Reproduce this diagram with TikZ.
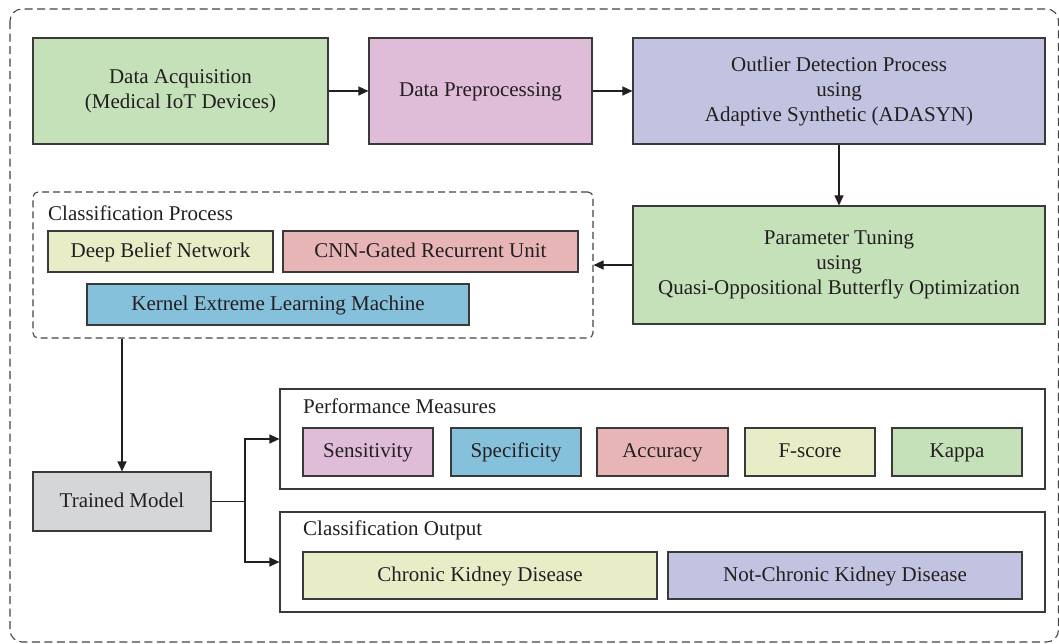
\documentclass[tikz,border=0pt]{standalone}
\usepackage{fontspec}
\setmainfont{Liberation Serif}
\usetikzlibrary{arrows.meta}
\definecolor{cgreen}{HTML}{C5E1B9}
\definecolor{cpink}{HTML}{DFBDD8}
\definecolor{clav}{HTML}{C2C3E1}
\definecolor{cyell}{HTML}{E8EDC8}
\definecolor{csalm}{HTML}{E8B5B6}
\definecolor{cblue}{HTML}{86C1DC}
\definecolor{cgray}{HTML}{D5D6D8}
\definecolor{cline}{HTML}{3A3A3A}
\definecolor{ctext}{HTML}{231F20}
\definecolor{cdash}{HTML}{444444}
\tikzset{
  box/.style={draw=cline, line width=1.1pt, rectangle, inner sep=0pt, align=center,
    text=ctext, font=\fontsize{21}{25}\selectfont},
  one/.style={text height=15pt, text depth=3.5pt},
  frame/.style={draw=cline, line width=1.1pt, rectangle, inner sep=0pt},
  dframe/.style={draw=cdash, line width=1.1pt, dash pattern=on 7pt off 4pt, rectangle, inner sep=0pt, rounded corners=5pt},
  lbl/.style={anchor=west, inner sep=0pt, text=ctext, font=\fontsize{21}{25}\selectfont},
  arr/.style={draw=ctext, line width=1.1pt, -{Triangle[length=10pt,width=9pt]}},
  ln/.style={draw=ctext, line width=1.1pt},
}
\begin{document}
\begin{tikzpicture}[x=1pt,y=-1pt]
\useasboundingbox (0,0) rectangle (1059,643);
% outer dashed frame
\draw[draw=cdash, line width=1.1pt, dash pattern=on 8pt off 4.5pt, rounded corners=12pt] (10,9) rectangle (1058.5,642);

% top row
\node[box, fill=cgreen, minimum width=295pt, minimum height=106pt] (acq) at (180.5,91) {Data Acquisition\\(Medical IoT Devices)};
\node[box, one, fill=cpink, minimum width=223pt, minimum height=106pt] (prep) at (480.5,91) {Data Preprocessing};
\node[box, fill=clav, minimum width=412pt, minimum height=106pt] (outl) at (839,91) {Outlier Detection Process\\using\\Adaptive Synthetic (ADASYN)};
\node[box, fill=cgreen, minimum width=412pt, minimum height=118pt] (param) at (839,265) {Parameter Tuning\\using\\Quasi-Oppositional Butterfly Optimization};

% classification process
\node[dframe, minimum width=560pt, minimum height=146pt] (cls) at (313,265) {};
\node[lbl] (clslbl) at (48,213) {Classification Process};
\node[box, one, fill=cyell, minimum width=225pt, minimum height=41pt] (dbn) at (160.5,251.5) {Deep Belief Network};
\node[box, one, fill=csalm, minimum width=295pt, minimum height=41pt] (cnn) at (430.5,251.5) {CNN-Gated Recurrent Unit};
\node[box, one, fill=cblue, minimum width=382pt, minimum height=41pt] (kelm) at (278,304.5) {Kernel Extreme Learning Machine};

% trained model
\node[box, one, fill=cgray, minimum width=178pt, minimum height=59pt] (tm) at (122,501.5) {Trained Model};

% performance measures
\node[frame, minimum width=765pt, minimum height=100pt] (perf) at (662.5,439) {};
\node[lbl] (perflbl) at (303,406) {Performance Measures};
\node[box, one, fill=cpink, minimum width=130pt, minimum height=48pt] (sens) at (368,452) {Sensitivity};
\node[box, one, fill=cblue, minimum width=130pt, minimum height=48pt] (spec) at (516,452) {Specificity};
\node[box, one, fill=csalm, minimum width=131pt, minimum height=48pt] (acc) at (662.5,452) {Accuracy};
\node[box, one, fill=cyell, minimum width=130pt, minimum height=48pt] (fs) at (810,452) {F-score};
\node[box, one, fill=cgreen, minimum width=130pt, minimum height=48pt] (kap) at (957,452) {Kappa};

% classification output
\node[frame, minimum width=765pt, minimum height=100pt] (out) at (662.5,562) {};
\node[lbl] (outlbl) at (303,530) {Classification Output};
\node[box, one, fill=cyell, minimum width=354pt, minimum height=47pt] (ckd) at (480,575.5) {Chronic Kidney Disease};
\node[box, one, fill=clav, minimum width=354pt, minimum height=47pt] (nckd) at (845,575.5) {Not-Chronic Kidney Disease};

% connectors
\draw[arr] (acq.east) -- (prep.west);
\draw[arr] (prep.east) -- (outl.west);
\draw[arr] (outl.south) -- (param.north);
\draw[arr] (param.west) -- (cls.east);
\draw[arr] (tm.north |- cls.south) -- (tm.north);
\coordinate (br) at (245,501.5);
\draw[ln] (tm.east) -- (br);
\draw[arr] (br) |- (perf.west);
\draw[arr] (br) |- (out.west);
\end{tikzpicture}
\end{document}
